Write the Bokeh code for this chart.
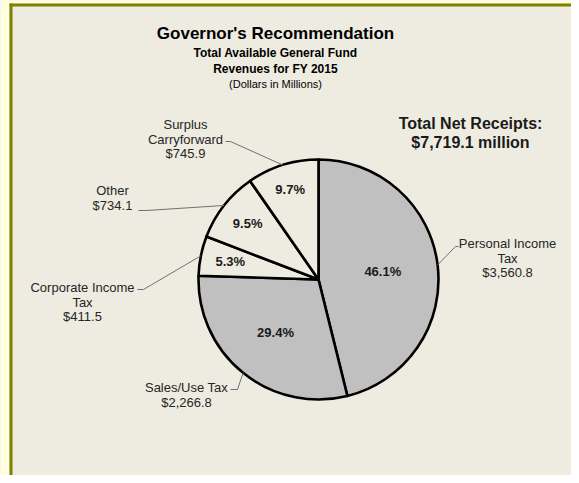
import math
from bokeh.plotting import figure
from bokeh.models import Range1d, ColumnDataSource
from bokeh.core.properties import value
from bokeh.embed import file_html
from bokeh.resources import INLINE

# ---------------- data ----------------
categories = ["Personal Income Tax", "Sales/Use Tax", "Corporate Income Tax", "Other", "Surplus Carryforward"]
label_names = ["Personal Income\nTax", "Sales/Use Tax", "Corporate Income\nTax", "Other", "Surplus\nCarryforward"]
values = [3560.8, 2266.8, 411.5, 734.1, 745.9]
slice_colors = ["#C0C0C0", "#C0C0C0", "#EEECE1", "#EEECE1", "#EEECE1"]
title_lines = ["Governor's Recommendation", "Total Available General Fund",
               "Revenues for FY 2015", "(Dollars in Millions)"]

# ---------------- layout (reference pixel coordinates) ----------------
W, H = 571, 475
FONT = "Liberation Sans"
BG = "#EEECE1"
def Y(y):
    return H - y

CX, CY, R = 318, 279, 120
pct_radius = [0.54, 0.57, 0.75, 0.75, 0.79]
label_pos = [(507, 243), (186, 387), (82, 287), (112, 190), (185, 124)]
leader_start = [(458, 246), (230, 389), (137, 289), (138, 210), (225, 141)]
leader_elbow = [(455, 246), (237, 389), (143, 289), (146, 210), (230, 141)]
LINE_H = 14.7

p = figure(width=W, height=H, output_backend="svg", toolbar_location=None,
           x_range=Range1d(0, W), y_range=Range1d(0, H),
           min_border=0, background_fill_color=BG, border_fill_color=BG,
           outline_line_color=None)
p.xaxis.visible = False
p.yaxis.visible = False
p.grid.visible = False

# outer strip and olive frame border
p.quad(left=[0], right=[9], top=[H], bottom=[0], fill_color="#FFFFE0", line_color=None)
p.quad(left=[0], right=[W], top=[H], bottom=[Y(3)], fill_color="#FFFFE0", line_color=None)
p.quad(left=[9], right=[12], top=[Y(3)], bottom=[0], fill_color="#808000", line_color=None)
p.quad(left=[9], right=[W], top=[Y(3)], bottom=[Y(6)], fill_color="#808000", line_color=None)

# ---------------- pie ----------------
total = sum(values)
fracs = [v / total for v in values]
cum = [0.0]
for f in fracs:
    cum.append(cum[-1] + f)
starts = [math.pi / 2 - cum[i + 1] * 2 * math.pi for i in range(len(values))]
ends = [math.pi / 2 - cum[i] * 2 * math.pi for i in range(len(values))]
mids = [math.pi / 2 - (cum[i] + fracs[i] / 2) * 2 * math.pi for i in range(len(values))]

src = ColumnDataSource(dict(cat=categories, start=starts, end=ends, color=slice_colors))
p.wedge(x=CX, y=Y(CY), radius=R, start_angle="start", end_angle="end", source=src,
        fill_color="color", line_color="black", line_width=2.6, line_join="round")

# percent labels
px = [CX + pct_radius[i] * R * math.cos(mids[i]) for i in range(len(values))]
py = [Y(CY) + pct_radius[i] * R * math.sin(mids[i]) for i in range(len(values))]
ptxt = [f"{f * 100:.1f}%" for f in fracs]
p.text(x=px, y=py, text=ptxt, text_font=value(FONT), text_font_size="13px",
       text_font_style="bold", text_align="center", text_baseline="middle", text_color="#1a1a1a")

# leader lines
lx, ly = [], []
for i in range(len(values)):
    ex = CX + R * math.cos(mids[i])
    ey = Y(CY) + R * math.sin(mids[i])
    lx.append([leader_start[i][0], leader_elbow[i][0], ex])
    ly.append([Y(leader_start[i][1]), Y(leader_elbow[i][1]), ey])
p.multi_line(xs=lx, ys=ly, line_color="#707070", line_width=1)

# category labels
tx, ty, tt = [], [], []
for i in range(len(values)):
    lines = label_names[i].split("\n") + [f"${values[i]:,.1f}"]
    for j, s in enumerate(lines):
        tx.append(label_pos[i][0])
        ty.append(Y(label_pos[i][1] + j * LINE_H))
        tt.append(s)
p.text(x=tx, y=ty, text=tt, text_font=value(FONT), text_font_size="13px",
       text_align="center", text_baseline="middle", text_color="#262626")

# titles
p.text(x=[275], y=[Y(33)], text=[title_lines[0]], text_font=value(FONT), text_font_size="17px",
       text_font_style="bold", text_align="center", text_baseline="middle", text_color="black")
p.text(x=[275, 275], y=[Y(52), Y(68)], text=title_lines[1:3], text_font=value(FONT),
       text_font_size="12px", text_font_style="bold", text_align="center",
       text_baseline="middle", text_color="black")
p.text(x=[275], y=[Y(83)], text=[title_lines[3]], text_font=value(FONT), text_font_size="11px",
       text_align="center", text_baseline="middle", text_color="black")

# total
p.text(x=[470, 470], y=[Y(123), Y(142)],
       text=["Total Net Receipts:", f"${total:,.1f} million"], text_font=value(FONT),
       text_font_size="16px", text_font_style="bold", text_align="center",
       text_baseline="middle", text_color="#1a1a1a")

open("out.html", "w").write(file_html(p, INLINE))
